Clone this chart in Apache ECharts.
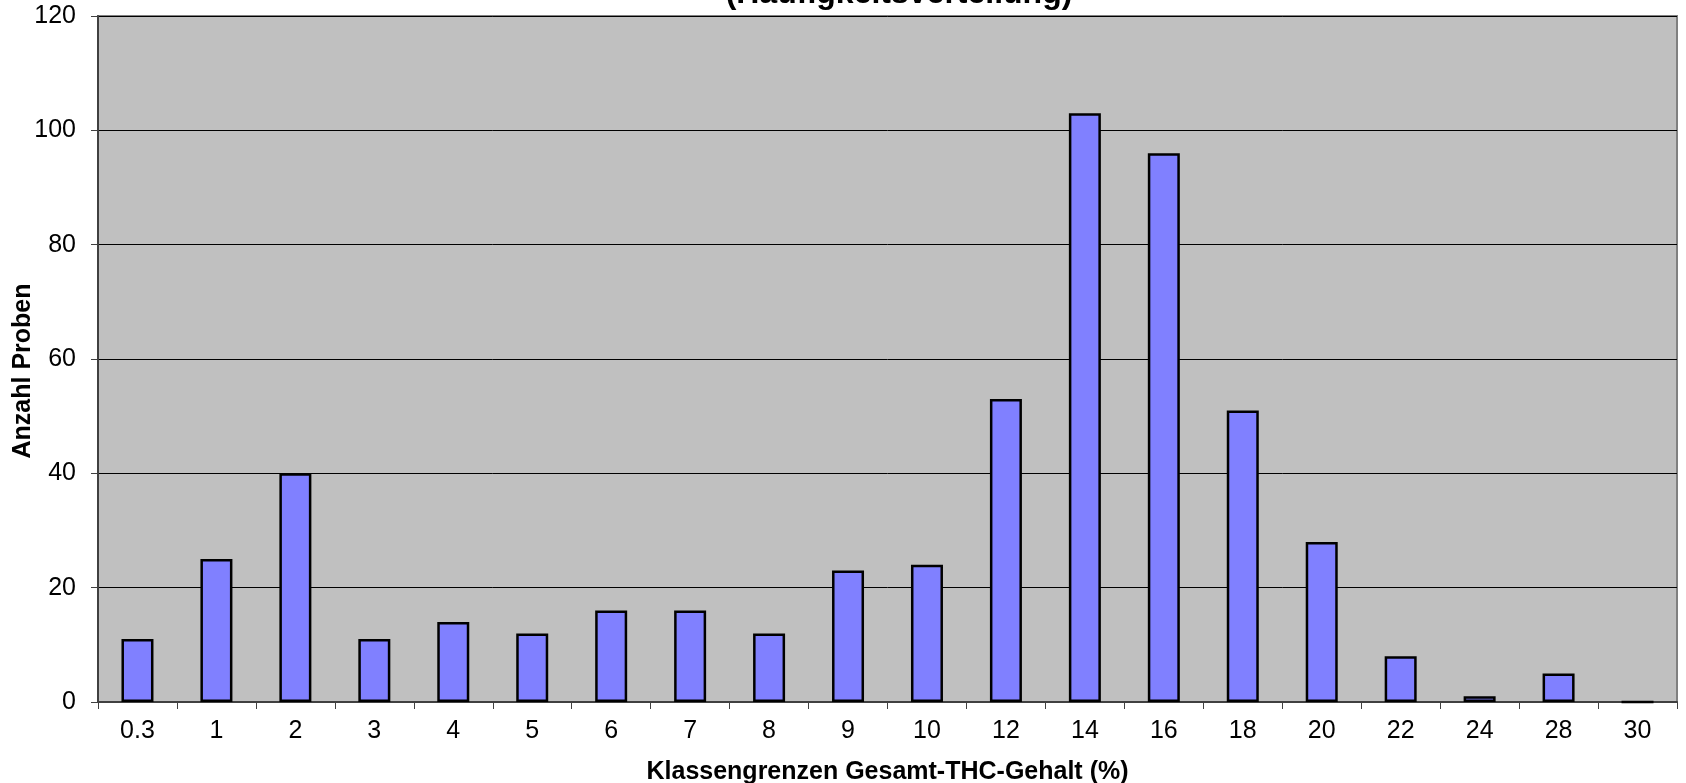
<!DOCTYPE html>
<html>
<head>
<meta charset="utf-8">
<script src="https://cdn.jsdelivr.net/npm/echarts@6/dist/echarts.min.js"></script>
<style>
html,body{margin:0;padding:0;background:#fff;}
#chart{width:1686px;height:783px;}
</style>
</head>
<body>
<div id="chart"></div>
<script>
const titleText = '(Häufigkeitsverteilung)';
const categories = ['0.3','1','2','3','4','5','6','7','8','9','10','12','14','16','18','20','22','24','28','30'];
const counts = [11,25,40,11,14,12,16,16,12,23,24,53,103,96,51,28,8,1,5,0];
const yTicks = {min:0, max:120, interval:20};
const xName = 'Klassengrenzen Gesamt-THC-Gehalt (%)';
const yName = 'Anzahl Proben';

const chart = echarts.init(document.getElementById('chart'), null, {renderer:'canvas'});
const FONT = '"Liberation Sans", Arial, sans-serif';
chart.setOption({
  animation:false,
  backgroundColor:'#ffffff',
  title:{
    text:titleText,
    left:894, top:-27, textAlign:'center',
    textStyle:{fontFamily:FONT, fontWeight:'bold', fontSize:32, color:'#000'}
  },
  graphic:[{
    type:'text', x:23, y:371, rotation:Math.PI/2,
    style:{text:yName, font:'bold 25px "Liberation Sans", Arial, sans-serif', fill:'#000', align:'center', verticalAlign:'middle'}
  }],
  grid:{
    left:98, right:9, top:16, bottom:81,
    containLabel:false, outerBoundsMode:'none',
    show:true, backgroundColor:'#C0C0C0', borderColor:'#808080', borderWidth:2
  },
  xAxis:{
    type:'category', data:categories, boundaryGap:true,
    name:xName, nameLocation:'middle', nameGap:58,
    nameTextStyle:{fontFamily:FONT, fontWeight:'bold', fontSize:25, color:'#000'},
    axisLine:{show:true, lineStyle:{color:'#404040', width:2}},
    axisTick:{show:true, interval:0, length:7, inside:false, lineStyle:{color:'#404040', width:1}},
    axisLabel:{interval:0, margin:17, fontFamily:FONT, fontSize:25, color:'#000'},
    splitLine:{show:false}
  },
  yAxis:{
    type:'value', min:yTicks.min, max:yTicks.max, interval:yTicks.interval,
    axisLine:{show:true, lineStyle:{color:'#404040', width:2}},
    axisTick:{show:true, length:7, inside:false, lineStyle:{color:'#404040', width:1}},
    axisLabel:{margin:22, fontFamily:FONT, fontSize:25, color:'#000'},
    splitLine:{show:true, lineStyle:{color:'#000', width:1}}
  },
  series:[{
    type:'bar', data:counts, barWidth:32,
    itemStyle:{color:'#8080FF', borderColor:'#000', borderWidth:2.5}
  }]
});
</script>
</body>
</html>
